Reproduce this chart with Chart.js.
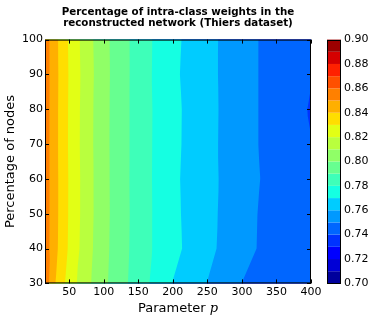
<!DOCTYPE html>
<html lang="en">
<head>
<meta charset="UTF-8">
<title>Intra-class weights (Thiers dataset)</title>
<script src="https://cdn.jsdelivr.net/npm/chart.js"></script>
<style>
  html, body { margin: 0; padding: 0; background: #fff; }
</style>
</head>
<body>
<canvas id="contourChart" width="374" height="323"></canvas>
<script>
// grid: columns = parameter p, rows = percentage of nodes
const paramP = [15, 25, 50, 75, 100, 125, 150, 175, 200, 225, 250, 275, 300, 325, 350, 375, 400];
const percentNodes = [30, 40, 50, 60, 70, 80, 90, 100];

const row30  = [0.859, 0.8437, 0.8256, 0.8130, 0.8022, 0.7933, 0.7851, 0.7772, 0.7697, 0.7648, 0.7598, 0.7549, 0.7499, 0.7483, 0.7465, 0.7448, 0.7430];
const row40  = [0.857, 0.8460, 0.8285, 0.8143, 0.8029, 0.7939, 0.7858, 0.7786, 0.7729, 0.7675, 0.7625, 0.7578, 0.7534, 0.7494, 0.7466, 0.7438, 0.7410];
const row50  = [0.857, 0.8463, 0.8290, 0.8148, 0.8032, 0.7941, 0.7860, 0.7786, 0.7725, 0.7672, 0.7627, 0.7582, 0.7537, 0.7496, 0.7467, 0.7438, 0.7408];
const row60  = [0.857, 0.8463, 0.8291, 0.8148, 0.8031, 0.7940, 0.7858, 0.7785, 0.7722, 0.7670, 0.7628, 0.7585, 0.7543, 0.7502, 0.7468, 0.7437, 0.7406];
const row70  = [0.857, 0.8462, 0.8288, 0.8145, 0.8030, 0.7940, 0.7859, 0.7786, 0.7726, 0.7674, 0.7628, 0.7583, 0.7540, 0.7498, 0.7467, 0.7434, 0.7403];
const row80  = [0.857, 0.8462, 0.8289, 0.8146, 0.8031, 0.7940, 0.7859, 0.7787, 0.7727, 0.7675, 0.7629, 0.7584, 0.7540, 0.7498, 0.7465, 0.7430, 0.7392];
const row90  = [0.857, 0.8464, 0.8292, 0.8150, 0.8033, 0.7941, 0.7859, 0.7784, 0.7721, 0.7670, 0.7627, 0.7583, 0.7540, 0.7498, 0.7468, 0.7437, 0.7405];
const row100 = [0.857, 0.8462, 0.8288, 0.8145, 0.8030, 0.7940, 0.7859, 0.7786, 0.7726, 0.7674, 0.7628, 0.7583, 0.7540, 0.7498, 0.7468, 0.7439, 0.7410];
const weightRows = [row30, row40, row50, row60, row70, row80, row90, row100];

const levels = [0.70, 0.71, 0.72, 0.73, 0.74, 0.75, 0.76, 0.77, 0.78, 0.79, 0.80,
                0.81, 0.82, 0.83, 0.84, 0.85, 0.86, 0.87, 0.88, 0.89, 0.90];
const xTicks = [50, 100, 150, 200, 250, 300, 350, 400];
const yTicks = [30, 40, 50, 60, 70, 80, 90, 100];
const cbTicks = [0.70, 0.72, 0.74, 0.76, 0.78, 0.80, 0.82, 0.84, 0.86, 0.88, 0.90];

// matplotlib "jet"
const jetSeg = {
  r: [[0, 0], [0.35, 0], [0.66, 1], [0.89, 1], [1, 0.5]],
  g: [[0, 0], [0.125, 0], [0.375, 1], [0.64, 1], [0.91, 0], [1, 0]],
  b: [[0, 0.5], [0.11, 1], [0.34, 1], [0.65, 0], [1, 0]]
};
function segVal(seg, t) {
  for (let i = 0; i < seg.length - 1; i++) {
    const [x0, v0] = seg[i], [x1, v1] = seg[i + 1];
    if (t <= x1) return v0 + (v1 - v0) * (t - x0) / (x1 - x0);
  }
  return seg[seg.length - 1][1];
}
function jet(t) {
  const c = k => Math.round(255 * segVal(jetSeg[k], t));
  return `rgb(${c('r')},${c('g')},${c('b')})`;
}
const nBands = levels.length - 1;
const bandColors = levels.slice(0, -1).map((v, k) => jet((k + 0.5) / nBands));

// keep part of polygon where z >= a
function clipAbove(poly, a) {
  const out = [];
  for (let i = 0; i < poly.length; i++) {
    const p = poly[i], q = poly[(i + 1) % poly.length];
    const pin = p.z >= a, qin = q.z >= a;
    if (pin) out.push(p);
    if (pin !== qin) {
      const t = (a - p.z) / (q.z - p.z);
      out.push({ x: p.x + t * (q.x - p.x), y: p.y + t * (q.y - p.y), z: a });
    }
  }
  return out;
}

const contourPlugin = {
  id: 'contourFill',
  beforeDatasetsDraw(chart) {
    const { ctx, chartArea: ca } = chart;
    const xs = chart.scales.x, ys = chart.scales.y;
    const tris = [];
    for (let j = 0; j < percentNodes.length - 1; j++) {
      for (let i = 0; i < paramP.length - 1; i++) {
        const pt = (ii, jj) => ({
          x: xs.getPixelForValue(paramP[ii]),
          y: ys.getPixelForValue(percentNodes[jj]),
          z: weightRows[jj][ii]
        });
        const a = pt(i, j), b = pt(i + 1, j), c = pt(i + 1, j + 1), d = pt(i, j + 1);
        tris.push([a, b, c], [a, c, d]);
      }
    }
    ctx.save();
    ctx.beginPath();
    ctx.rect(ca.left, ca.top, ca.right - ca.left, ca.bottom - ca.top);
    ctx.clip();
    // stack the "z >= level" regions, lowest first
    for (let k = 0; k < nBands; k++) {
      ctx.beginPath();
      let any = false;
      tris.forEach(t => {
        const poly = clipAbove(t, levels[k]);
        if (poly.length < 3) return;
        any = true;
        ctx.moveTo(poly[0].x, poly[0].y);
        for (let n = 1; n < poly.length; n++) ctx.lineTo(poly[n].x, poly[n].y);
        ctx.closePath();
      });
      if (!any) break;
      ctx.fillStyle = bandColors[k];
      ctx.fill();
    }
    ctx.restore();
  },
  afterDraw(chart) {
    const { ctx, chartArea: ca } = chart;
    const xs = chart.scales.x, ys = chart.scales.y, cb = chart.scales.cb;
    ctx.save();
    ctx.strokeStyle = '#000';
    ctx.lineWidth = 1;
    // frame
    ctx.strokeRect(ca.left + 0.5, ca.top + 0.5, ca.right - ca.left - 1, ca.bottom - ca.top - 1);
    // inward ticks on all four sides
    const tl = 4;
    ctx.beginPath();
    xTicks.forEach(v => {
      const x = Math.round(xs.getPixelForValue(v)) + 0.5;
      ctx.moveTo(x, ca.bottom); ctx.lineTo(x, ca.bottom - tl);
      ctx.moveTo(x, ca.top); ctx.lineTo(x, ca.top + tl);
    });
    yTicks.forEach(v => {
      const y = Math.round(ys.getPixelForValue(v)) + 0.5;
      ctx.moveTo(ca.left, y); ctx.lineTo(ca.left + tl, y);
      ctx.moveTo(ca.right, y); ctx.lineTo(ca.right - tl, y);
    });
    ctx.stroke();

    // colour bar
    const cbX = cb.left + 16, cbW = 14;
    for (let k = 0; k < nBands; k++) {
      const y1 = cb.getPixelForValue(levels[k]), y2 = cb.getPixelForValue(levels[k + 1]);
      ctx.fillStyle = bandColors[k];
      ctx.fillRect(cbX, y2, cbW, y1 - y2);
    }
    const cbTop = cb.getPixelForValue(levels[nBands]), cbBot = cb.getPixelForValue(levels[0]);
    ctx.strokeRect(cbX + 0.5, Math.round(cbTop) + 0.5, cbW - 1, Math.round(cbBot - cbTop) - 1);

    // titles
    ctx.fillStyle = '#000';
    ctx.textAlign = 'center';
    ctx.textBaseline = 'alphabetic';
    const cx = (ca.left + ca.right) / 2;
    ctx.font = 'bold 10.3px "DejaVu Sans"';
    ctx.fillText('Percentage of intra-class weights in the', cx, 14.5);
    ctx.fillText('reconstructed network (Thiers dataset)', cx, 25.5);

    ctx.font = '13px "DejaVu Sans"';
    const word = 'Parameter ';
    const ww = ctx.measureText(word).width;
    ctx.font = 'italic 13px "DejaVu Serif"';
    const pw = ctx.measureText('p').width;
    const x0 = cx - (ww + pw) / 2;
    ctx.textAlign = 'left';
    ctx.font = '13px "DejaVu Sans"';
    ctx.fillText(word, x0, 311.5);
    ctx.font = 'italic 13px "DejaVu Serif"';
    ctx.fillText('p', x0 + ww, 311.5);

    ctx.translate(11, (ca.top + ca.bottom) / 2);
    ctx.rotate(-Math.PI / 2);
    ctx.textAlign = 'center';
    ctx.textBaseline = 'middle';
    ctx.font = '13px "DejaVu Sans"';
    ctx.fillText('Percentage of nodes', 0, 0);
    ctx.restore();
  }
};

const tickFont = { family: 'DejaVu Sans', size: 11 };
const gridPoints = [];
percentNodes.forEach((y, j) => paramP.forEach((x, i) => gridPoints.push({ x, y, z: weightRows[j][i] })));

new Chart(document.getElementById('contourChart'), {
  type: 'scatter',
  data: { datasets: [{ data: gridPoints, pointRadius: 0, pointHoverRadius: 0 }] },
  options: {
    responsive: false,
    animation: false,
    devicePixelRatio: 1,
    layout: { padding: { top: 29, left: 0, right: 0, bottom: 0 } },
    plugins: { legend: { display: false }, tooltip: { enabled: false } },
    scales: {
      x: {
        type: 'linear', position: 'bottom', min: 15, max: 400,
        afterBuildTicks: s => { s.ticks = xTicks.map(v => ({ value: v })); },
        afterFit: s => { s.height = 38; },
        ticks: { font: tickFont, color: '#000', padding: 2, maxRotation: 0, autoSkip: false },
        grid: { display: false, drawTicks: false },
        border: { display: false }
      },
      y: {
        type: 'linear', position: 'left', min: 30, max: 100,
        afterBuildTicks: s => { s.ticks = yTicks.map(v => ({ value: v })); },
        afterFit: s => { s.width = 45; },
        ticks: { font: tickFont, color: '#000', padding: 2, autoSkip: false },
        grid: { display: false, drawTicks: false },
        border: { display: false }
      },
      cb: {
        type: 'linear', position: 'right', min: 0.70, max: 0.90,
        afterBuildTicks: s => { s.ticks = cbTicks.map(v => ({ value: v })); },
        afterFit: s => { s.width = 63; },
        ticks: { font: tickFont, color: '#000', padding: 33, autoSkip: false, callback: v => v.toFixed(2) },
        grid: { display: false, drawTicks: false },
        border: { display: false }
      }
    }
  },
  plugins: [contourPlugin]
});
</script>
</body>
</html>
